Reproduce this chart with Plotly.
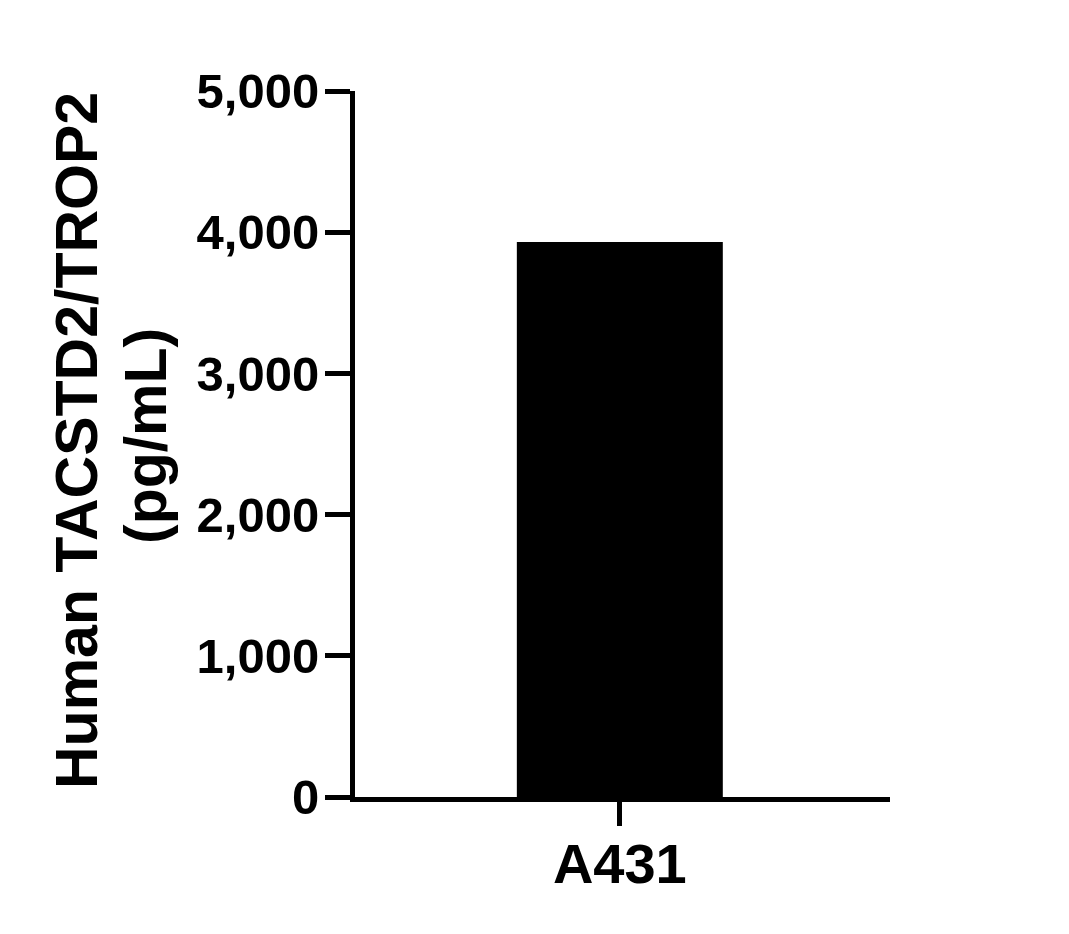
import plotly.graph_objects as go

categories = ["A431"]
values = [3930]
y_tick_vals = [0, 1000, 2000, 3000, 4000, 5000]
y_title_lines = ["Human TACSTD2/TROP2", "(pg/mL)"]

FONT = "Liberation Sans, Arial, sans-serif"
W, H = 1069, 934
OFF = 8  # page body margin
L, T = 355 - OFF, 91 - OFF
pw, ph = 535, 706
R = W - L - pw
B = H - T - ph

fig = go.Figure(go.Bar(
    x=categories, y=values, width=0.385,
    marker=dict(color="black", line=dict(width=0)),
))

fig.update_layout(
    width=W, height=H,
    margin=dict(l=L, r=R, t=T, b=B, pad=0),
    plot_bgcolor="white", paper_bgcolor="white",
    showlegend=False,
    font=dict(family=FONT, color="black"),
)
fig.update_xaxes(
    range=[-0.495, 0.505],
    showline=True, linecolor="black", linewidth=5,
    ticks="outside", ticklen=24, tickwidth=5, tickcolor="black",
    ticklabelstandoff=-10,
    showgrid=False, zeroline=False,
    tickfont=dict(family=FONT, size=56, color="black", weight="bold"),
)
fig.update_yaxes(
    range=[0, 5000],
    tickvals=y_tick_vals, tickformat=",",
    showline=True, linecolor="black", linewidth=5,
    ticks="outside", ticklen=25, tickwidth=5, tickcolor="black",
    ticklabelstandoff=-4,
    showgrid=False, zeroline=False,
    tickfont=dict(family=FONT, size=49, color="black", weight="bold"),
)
for text, cx, cy in zip(y_title_lines, [77, 146], [441, 436]):
    fig.add_annotation(
        text=text, textangle=-90,
        xref="paper", yref="paper",
        x=(cx - OFF - L) / pw, y=(H - B - (cy - OFF)) / ph,
        xanchor="center", yanchor="middle", showarrow=False,
        font=dict(family=FONT, size=59, color="black", weight="bold"),
    )

fig.write_html("out.html")
